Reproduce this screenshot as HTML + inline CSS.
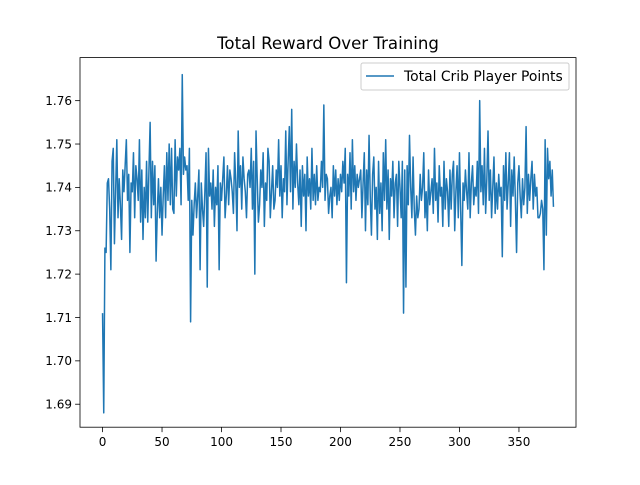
<!DOCTYPE html>
<html><head><meta charset="utf-8"><style>
body{margin:0;background:#fff;}
svg text{font-family:"DejaVu Sans","Liberation Sans",sans-serif;}
</style></head><body>
<svg id="chart" width="640" height="480" xmlns="http://www.w3.org/2000/svg">
<rect width="640" height="480" fill="#fff"/>
<text x="328" y="49" font-size="16.6" text-anchor="middle">Total Reward Over Training</text>
<g id="ticks"></g>
<polyline id="line" fill="none" stroke="#1f77b4" stroke-width="1.5" stroke-linejoin="round"/>
<rect x="80" y="57.6" width="496" height="369.6" fill="none" stroke="#000" stroke-width="0.8"/>
<g>
<rect x="361" y="63" width="208" height="27" rx="2" fill="#fff" fill-opacity="0.8" stroke="#ccc"/>
<line x1="366" y1="76" x2="394" y2="76" stroke="#1f77b4" stroke-width="1.5"/>
<text x="404" y="81" font-size="13.9">Total Crib Player Points</text>
</g>
</svg>
<script>
const values=[1.711,1.688,1.726,1.725,1.741,1.742,1.735,1.721,1.746,1.749,1.727,1.739,1.751,1.733,1.742,1.736,1.728,1.744,1.739,1.745,
1.751,1.737,1.743,1.725,1.741,1.739,1.748,1.733,1.745,1.742,1.737,1.751,1.732,1.744,1.728,1.740,1.733,1.746,1.732,1.744,
1.755,1.733,1.746,1.736,1.745,1.723,1.734,1.742,1.733,1.740,1.729,1.738,1.745,1.733,1.748,1.737,1.750,1.736,1.749,1.735,
1.734,1.751,1.738,1.747,1.744,1.749,1.736,1.766,1.743,1.747,1.744,1.745,1.737,1.749,1.709,1.737,1.729,1.736,1.741,1.733,
1.738,1.744,1.721,1.741,1.735,1.731,1.739,1.748,1.717,1.749,1.738,1.741,1.735,1.744,1.731,1.740,1.736,1.745,1.721,1.741,
1.737,1.742,1.747,1.733,1.738,1.745,1.736,1.744,1.742,1.739,1.734,1.748,1.741,1.730,1.753,1.740,1.745,1.735,1.747,1.742,
1.739,1.733,1.743,1.744,1.740,1.749,1.735,1.746,1.720,1.753,1.742,1.732,1.736,1.744,1.740,1.748,1.731,1.741,1.737,1.749,
1.746,1.733,1.739,1.745,1.735,1.737,1.744,1.740,1.751,1.738,1.745,1.733,1.742,1.739,1.753,1.736,1.746,1.754,1.739,1.758,
1.735,1.746,1.740,1.750,1.741,1.736,1.744,1.731,1.745,1.738,1.743,1.730,1.747,1.738,1.742,1.735,1.749,1.737,1.743,1.736,
1.745,1.737,1.740,1.739,1.746,1.740,1.759,1.737,1.743,1.742,1.734,1.738,1.740,1.733,1.745,1.738,1.744,1.736,1.742,1.737,
1.743,1.739,1.746,1.741,1.749,1.718,1.743,1.738,1.748,1.735,1.751,1.739,1.745,1.737,1.743,1.740,1.742,1.744,1.733,1.741,
1.748,1.730,1.744,1.736,1.752,1.738,1.729,1.743,1.747,1.735,1.740,1.728,1.746,1.734,1.741,1.730,1.748,1.737,1.751,1.735,
1.744,1.728,1.742,1.738,1.746,1.733,1.741,1.743,1.731,1.746,1.740,1.733,1.746,1.711,1.744,1.717,1.745,1.736,1.752,1.740,
1.733,1.747,1.735,1.729,1.738,1.733,1.735,1.743,1.737,1.740,1.748,1.733,1.739,1.730,1.744,1.736,1.739,1.742,1.734,1.749,
1.737,1.741,1.732,1.745,1.738,1.740,1.731,1.746,1.735,1.742,1.739,1.731,1.744,1.735,1.743,1.746,1.730,1.739,1.745,1.733,
1.748,1.735,1.722,1.741,1.737,1.744,1.739,1.735,1.748,1.733,1.741,1.745,1.736,1.740,1.738,1.746,1.734,1.760,1.739,1.745,
1.736,1.749,1.734,1.742,1.753,1.737,1.744,1.733,1.740,1.747,1.734,1.741,1.735,1.743,1.738,1.740,1.724,1.745,1.737,1.748,
1.735,1.741,1.748,1.731,1.744,1.738,1.747,1.737,1.725,1.741,1.745,1.738,1.733,1.742,1.736,1.740,1.754,1.734,1.743,1.737,
1.742,1.746,1.735,1.743,1.738,1.740,1.733,1.733,1.734,1.737,1.735,1.721,1.751,1.729,1.749,1.742,1.746,1.738,1.744,1.7355];
const xTicks=[0,50,100,150,200,250,300,350];
const yTicks=[1.69,1.70,1.71,1.72,1.73,1.74,1.75,1.76];
const L=80,R=576,T=57.6,B=427.2;
const n=values.length;
const xMin=-(n-1)*0.05,xMax=(n-1)*1.05;
const yMin=1.68470,yMax=1.76993;
function sx(i){return L+(i-xMin)/(xMax-xMin)*(R-L);}
function sy(v){return B-(v-yMin)/(yMax-yMin)*(B-T);}
const ns="http://www.w3.org/2000/svg";
document.getElementById('line').setAttribute('points',values.map((v,i)=>sx(i).toFixed(2)+','+sy(v).toFixed(2)).join(' '));
const g=document.getElementById('ticks');
xTicks.forEach(t=>{
 const x=sx(t);
 const l=document.createElementNS(ns,'line');
 l.setAttribute('x1',x);l.setAttribute('x2',x);l.setAttribute('y1',B);l.setAttribute('y2',B+4.9);l.setAttribute('stroke','#000');l.setAttribute('stroke-width','0.8');
 
 
 g.appendChild(l);
 const tx=document.createElementNS(ns,'text');
 tx.setAttribute('x',x);tx.setAttribute('y',B+19);tx.setAttribute('font-size','12');tx.setAttribute('text-anchor','middle');tx.textContent=t;
 
 
 g.appendChild(tx);
});
yTicks.forEach(t=>{
 const y=sy(t);
 const l=document.createElementNS(ns,'line');
 l.setAttribute('x1',L-4.9);l.setAttribute('x2',L);l.setAttribute('y1',y);l.setAttribute('y2',y);l.setAttribute('stroke','#000');l.setAttribute('stroke-width','0.8');
 
 
 g.appendChild(l);
 const tx=document.createElementNS(ns,'text');
 tx.setAttribute('x',L-8);tx.setAttribute('y',y+4.3);tx.setAttribute('font-size','12');tx.setAttribute('text-anchor','end');tx.textContent=t.toFixed(2);
 
 
 g.appendChild(tx);
});
</script>
</body></html>
